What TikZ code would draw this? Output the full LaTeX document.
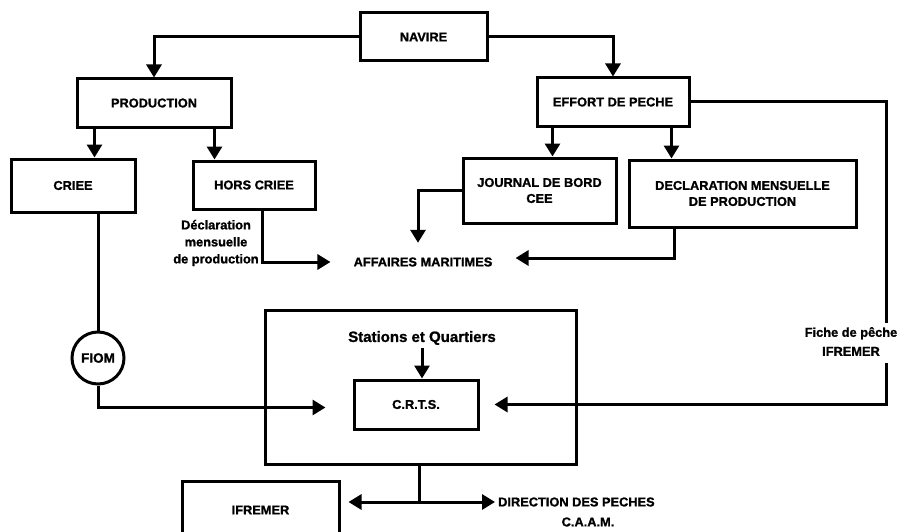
\documentclass[tikz,border=0pt]{standalone}
\usepackage{fontspec}
\setmainfont{Liberation Sans}[BoldFeatures={FakeBold=1.2}]
\usetikzlibrary{arrows.meta,calc}
\begin{document}
\begin{tikzpicture}[x=1pt,y=-1pt,
  every node/.style={font=\bfseries\fontsize{12.8}{16}\selectfont},
  box/.style={draw,line width=3pt,inner sep=0pt,align=center},
  ln/.style={line width=3pt},
  arr/.style={ln,-{Triangle[length=13pt,width=15pt]}},
]
\clip (0,0) rectangle (901,532);
\fill[white] (0,0) rectangle (901,532);

% boxes
\node[box,minimum width=127pt,minimum height=48pt] (navire) at (423.5,37) {NAVIRE};
\node[box,minimum width=154pt,minimum height=48pt] (production) at (154,103) {PRODUCTION};
\node[box,minimum width=152pt,minimum height=48pt] (effort) at (613,102) {EFFORT DE PECHE};
\node[box,minimum width=124pt,minimum height=53pt] (criee) at (73,185.5) {CRIEE};
\node[box,minimum width=122pt,minimum height=48pt] (hors) at (254,185) {HORS CRIEE};
\node[box,minimum width=153pt,minimum height=65pt] (journal) at (539.5,190.5) {JOURNAL DE BORD\\CEE};
\node[box,minimum width=227pt,minimum height=67pt] (declar) at (742.5,193.5) {DECLARATION MENSUELLE\\DE PRODUCTION};
\node[box,minimum width=311pt,minimum height=154pt] (big) at (420.5,387) {};
\node[font=\bfseries\fontsize{15}{18}\selectfont] (stations) at (422,338) {Stations et Quartiers};
\node[box,minimum width=124pt,minimum height=49pt] (crts) at (416,404.5) {C.R.T.S.};
\node[box,minimum width=157pt,minimum height=58pt] (ifremer) at (260.5,510) {IFREMER};
\node[draw,line width=3pt,circle,minimum size=52pt,inner sep=0pt,font=\bfseries\fontsize{13.5}{16}\selectfont] (fiom) at (98,358) {FIOM};

% free texts
\node[inner xsep=23pt,minimum height=38pt] (affaires) at (423,262) {AFFAIRES MARITIMES};
\node[align=center,font=\bfseries\fontsize{12.8}{17}\selectfont] (decltxt) at (216,243) {Déclaration\\mensuelle\\de production};
\node[align=center,font=\bfseries\fontsize{12.8}{19}\selectfont] (fiche) at (851,341.5) {Fiche de pêche\\IFREMER};
\node[anchor=west,inner xsep=3pt] (direction) at (495,502) {DIRECTION DES PECHES};
\node (caam) at (588,522) {C.A.A.M.};

% connectors
\draw[arr] (navire.west) -| (production.north);
\draw[arr] (navire.east) -| (effort.north);
\draw[arr] ($(production.south west)+(19,0)$) coordinate (pa) -- (pa |- criee.north);
\draw[arr] ($(production.south west)+(139,0)$) coordinate (pb) -- (pb |- hors.north);
\draw[arr] ($(effort.south west)+(17,0)$) coordinate (ea) -- (ea |- journal.north);
\draw[arr] ($(effort.south west)+(136,0)$) coordinate (eb) -- (eb |- declar.north);
\draw[arr] ($(hors.south)+(8,0)$) |- (affaires.west);
\draw[arr] (journal.west) -| ($(affaires.north)+(-5,0)$);
\draw[arr] ($(declar.south west)+(47,0)$) |- ($(affaires.east)+(0,-4)$);
\coordinate (ftop) at (886,323);
\coordinate (fbot) at (886,363);
\draw[ln] (effort.east) -| (ftop);
\draw[arr,shorten >=15pt] (fbot) |- (crts.east);
\draw[ln] (fiom.north |- criee.south) -- (fiom.north);
\draw[arr,shorten >=27pt] (fiom.south) |- ($(crts.west)+(0,3)$);
\draw[arr] (stations.south) -- (stations.south |- crts.north);
\coordinate (j) at (419,502);
\draw[ln] (j |- big.south) -- (j);
\draw[arr,shorten >=8pt] (j) -- (j -| ifremer.east);
\draw[arr] (j) -- (direction.west);
\end{tikzpicture}
\end{document}
